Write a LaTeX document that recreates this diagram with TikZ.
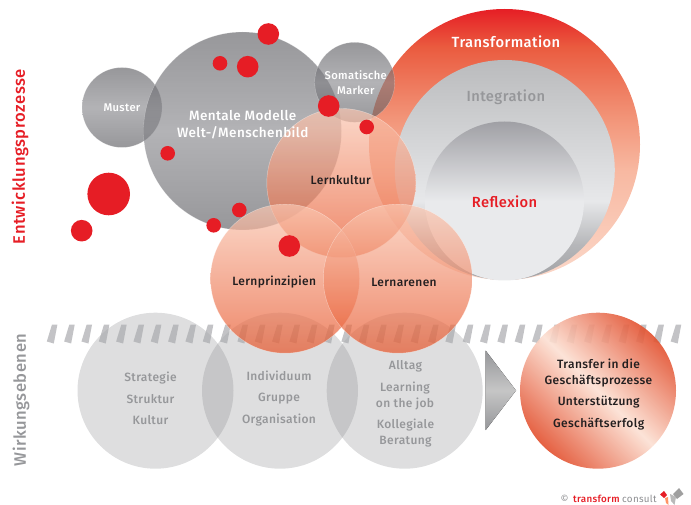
\documentclass[tikz,border=0pt]{standalone}
\usepackage{fontspec}
\setmainfont[LetterSpace=3,BoldFont={Fira Sans Medium}]{Fira Sans}
\usepackage{tikz}

\definecolor{dotred}{RGB}{230,29,37}
\definecolor{lowgray}{RGB}{140,141,144}
\definecolor{stripegray}{RGB}{170,171,174}
\definecolor{lerntop}{RGB}{250,200,179}
\definecolor{lernbot}{RGB}{231,85,42}
\definecolor{greytop}{RGB}{82,82,87}
\definecolor{greymid}{RGB}{128,128,133}
\definecolor{labelgray}{RGB}{150,151,154}
\definecolor{copygray}{RGB}{140,141,144}
\definecolor{darktext}{RGB}{35,31,32}
\definecolor{transdark}{RGB}{226,80,46}
\definecolor{translight}{RGB}{252,224,211}
\definecolor{tfa}{RGB}{230,30,37}
\definecolor{tfb}{RGB}{234,91,63}
\definecolor{tfc}{RGB}{242,148,120}
\definecolor{tfd}{RGB}{248,185,162}
\definecolor{tfe}{RGB}{251,216,201}
\definecolor{inta}{RGB}{186,187,189}
\definecolor{intb}{RGB}{231,232,234}
\definecolor{intc}{RGB}{165,166,169}
\definecolor{refa}{RGB}{160,160,165}
\definecolor{refb}{RGB}{233,234,236}

\pgfdeclareverticalshading{transshade}{100bp}{color(0bp)=(tfe); color(25bp)=(tfe); color(45bp)=(tfd); color(55bp)=(tfc); color(68bp)=(tfb); color(75bp)=(tfa); color(100bp)=(tfa)}
\pgfdeclareverticalshading{integshade}{100bp}{color(0bp)=(intc); color(27bp)=(intc); color(33bp)=(intc!75!intb); color(43bp)=(intb); color(75bp)=(inta); color(100bp)=(inta)}
\pgfdeclareverticalshading{reflshade}{100bp}{color(0bp)=(refb); color(50bp)=(refb); color(75bp)=(refa); color(100bp)=(refa)}

\tikzset{
	bubble/.style={circle,inner sep=0pt,outer sep=0pt,minimum size=#1},
	lowbubble/.style={bubble=156,fill=lowgray,fill opacity=.29},
	lernbubble/.style={bubble=149,top color=lerntop,bottom color=lernbot,fill opacity=.7,draw=white,draw opacity=.45,line width=.4pt},
	greybubble/.style={bubble=#1,top color=greytop,bottom color=greytop,middle color=greymid,fill opacity=.6,draw=white,draw opacity=.4,line width=.3pt},
	reddot/.style={bubble=#1,fill=dotred},
	lbl/.style={align=center,inner sep=0pt,font=\bfseries\fontsize{12}{17.5}\selectfont},
	biglbl/.style={lbl,font=\bfseries\fontsize{14.7}{17}\selectfont},
	lowlbl/.style={lbl,text=labelgray,font=\bfseries\fontsize{12}{#1}\selectfont},
	translbl/.style={lbl,text=darktext,font=\bfseries\fontsize{12}{16.3}\selectfont},
	sidelbl/.style={inner sep=0pt,rotate=90,font=\bfseries\fontsize{16.6}{18}\selectfont},
	footlbl/.style={inner sep=0pt,anchor=west,font=\fontsize{9.8}{11}\selectfont},
}

\begin{document}
\begin{tikzpicture}[x=1pt,y=-1pt]
	\useasboundingbox (0,0) rectangle (691,505);

	\node[lowbubble] (strategie) at (155.5,390.7) {};
	\node[lowbubble] (individuum) at (280,390.7) {};
	\node[lowbubble] (alltag) at (404.7,390.7) {};
	\foreach \i in {0,...,36}
		\fill[stripegray,fill opacity=.71] (52+17.33*\i,324.5) -- ++(5.4,0) -- ++(-3.6,19) -- ++(-7,-2) -- cycle;

	\fill[top color=labelgray,bottom color=labelgray,middle color=gray!45] (485.7,350.7) -- (516,390.5) -- (485.7,430) -- cycle;
	\node[bubble=156,top color=transdark,bottom color=transdark,middle color=translight,shading angle=-45,fill opacity=.9] (transfer) at (598,390.7) {};

	\node[bubble=271,shading=transshade] (transformation) at (504.5,144.5) {};
	\node[bubble=220,shading=integshade] (integration) at (504.8,170) {};
	\node[bubble=159,shading=reflshade] (reflexion) at (504.5,201) {};

	\node[greybubble=80] (muster) at (122,107.5) {};
	\node[greybubble=198] (mental) at (242.5,131) {};
	\node[greybubble=80] (somatisch) at (354.7,82.3) {};

	\node[lernbubble] (lernkultur) at (341.3,183) {};
	\node[lernbubble] (lernprinzipien) at (285,278.7) {};
	\node[lernbubble] (lernarenen) at (397.8,278.7) {};

	\node[reddot=21.6] (dota) at (268.3,34) {};
	\node[reddot=14.6] (dotb) at (220,63.3) {};
	\node[reddot=21.6] (dotc) at (247.7,66.7) {};
	\node[reddot=21.6] (dotd) at (328.7,106) {};
	\node[reddot=14.6] (dote) at (366.7,127) {};
	\node[reddot=14.6] (dotf) at (167.7,153.3) {};
	\node[reddot=42.6] (dotg) at (108.7,194) {};
	\node[reddot=21.6] (doth) at (81.7,230.7) {};
	\node[reddot=14.6] (doti) at (239.3,210) {};
	\node[reddot=14.6] (dotj) at (213.7,225.3) {};
	\node[reddot=21.6] (dotk) at (289.3,246) {};

	\node[lbl,text=white,font=\bfseries\fontsize{11.2}{14.7}\selectfont] (mustertxt) at (122,108) {Muster};
	\node[lbl,text=white,font=\bfseries\fontsize{13.5}{17.5}\selectfont] (mentaltxt) at (242.7,124.5) {Mentale Modelle\\Welt-/Menschenbild};
	\node[lbl,text=white,font=\bfseries\fontsize{11.2}{14.7}\selectfont] (somatxt) at (355.8,82.3) {Somatische\\Marker};
	\node[lbl,text=darktext] (kulturtxt) at (340.8,180) {Lernkultur};
	\node[lbl,text=darktext] (prinztxt) at (274.2,282.3) {Lernprinzipien};
	\node[lbl,text=darktext] (arenentxt) at (404,282.3) {Lernarenen};
	\node[biglbl,text=white] (transtxt) at (506,42) {Transformation};
	\node[biglbl,text=labelgray] (integtxt) at (505.8,97) {Integration};
	\node[biglbl,text=dotred] (refltxt) at (504.5,202) {Reflexion};

	\node[lowlbl=21.5] (stratxt) at (150.5,398.5) {Strategie\\Struktur\\Kultur};
	\node[lowlbl=21.5] (indtxt) at (279,398.5) {Individuum\\Gruppe\\Organisation};
	\node[lowlbl=16] (alltxt) at (405.5,366) {Alltag};
	\node[lowlbl=16] (learntxt) at (405,396) {Learning\\on the job};
	\node[lowlbl=16] (kolltxt) at (405.5,433) {Kollegiale\\Beratung};
	\node[translbl] (transfertxt) at (598.5,373) {Transfer in die\\Geschäftsprozesse};
	\node[translbl] (untertxt) at (598.7,402.3) {Unterstützung};
	\node[translbl] (erfolgtxt) at (598.7,424) {Geschäftserfolg};

	\node[sidelbl,text=dotred] (entwtxt) at (20,156.5) {Entwicklungsprozesse};
	\node[sidelbl,text=labelgray] (wirktxt) at (21,400) {Wirkungsebenen};

	\node[footlbl,text=copygray] (copytxt) at (560.5,499) {©};
	\node[footlbl,text=dotred] (firmtxt) at (573,499) {\bfseries transform};
	\node[footlbl,text=copygray] (consulttxt) at (622,499) {consult};

	\fill[gray!75] (673,494) -- (679,488) -- (683.5,494) -- (677,499) -- cycle;
	\fill[gray!55] (670,494) -- (676,497) -- (674.5,505) -- (671,501) -- cycle;
	\fill[dotred] (660,494.5) -- (664,491) -- (667,495) -- (664,498) -- cycle;
	\fill[orange!60!red!60] (665,498) -- (668,497) -- (668.5,505) -- (666,503) -- cycle;
\end{tikzpicture}
\end{document}
